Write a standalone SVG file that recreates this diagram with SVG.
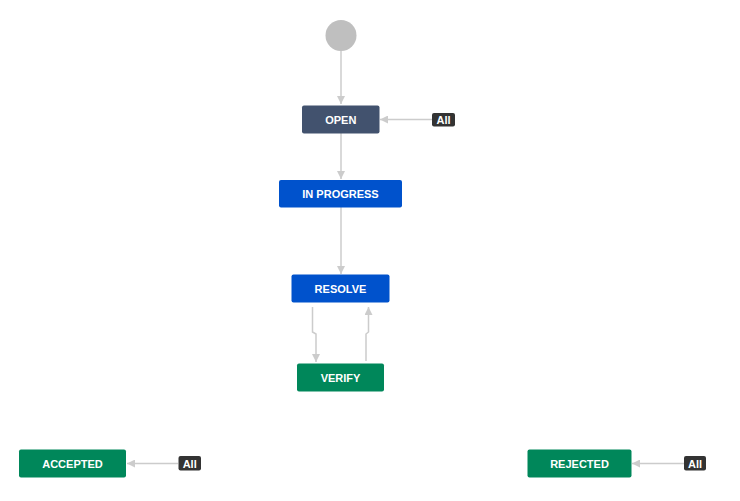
<svg xmlns="http://www.w3.org/2000/svg" width="740" height="501" viewBox="0 0 740 501">
<style>
.st text{font-family:"Liberation Sans",Arial,sans-serif;font-size:11px;font-weight:bold;fill:#fff;text-anchor:middle;dominant-baseline:central}
.lbl rect{fill:#333333}
.lbl text{font-family:"Liberation Sans",Arial,sans-serif;font-size:11px;font-weight:bold;fill:#fff;text-anchor:middle;dominant-baseline:central}
.conn path{fill:none;stroke:#cccccc;stroke-width:1.5}
</style>
<defs>
<marker id="ah" viewBox="0 0 10 10" refX="10" refY="5" markerWidth="8" markerHeight="8" markerUnits="userSpaceOnUse" orient="auto">
<path d="M0,0 L10,5 L0,10 z" fill="#cccccc"/>
</marker>
</defs>
<rect width="740" height="501" fill="#ffffff"/>
<g id="connectors" class="conn">
<path d="M341,51 V104" marker-end="url(#ah)"/>
<path d="M432,119.5 H380" marker-end="url(#ah)"/>
<path d="M341,133 V179" marker-end="url(#ah)"/>
<path d="M341,207 V274" marker-end="url(#ah)"/>
<path d="M312.5,307 V332 L316,334 V362" marker-end="url(#ah)"/>
<path d="M366,361 V334 L368.5,332 V307" marker-end="url(#ah)"/>
<path d="M178,463.5 H127" marker-end="url(#ah)"/>
<path d="M684,463.5 H632" marker-end="url(#ah)"/>
</g>
<g id="start"><circle cx="341" cy="35.5" r="15.5" fill="#bfbfbf"/></g>
<g id="open" class="st"><rect x="302" y="105.5" width="77.5" height="28" rx="2" fill="#42526e"/><text x="340.8" y="119.5">OPEN</text></g>
<g id="all-open" class="lbl"><rect x="432" y="113" width="23" height="13.5" rx="2"/><text x="443.5" y="120">All</text></g>
<g id="inprogress" class="st"><rect x="279" y="180" width="123" height="27.5" rx="2" fill="#0052cc"/><text x="340.5" y="194">IN PROGRESS</text></g>
<g id="resolve" class="st"><rect x="291.5" y="274.5" width="98" height="28" rx="2" fill="#0052cc"/><text x="340.5" y="288.5">RESOLVE</text></g>
<g id="verify" class="st"><rect x="297" y="363.5" width="87" height="28" rx="2" fill="#00875a"/><text x="340.5" y="377.5">VERIFY</text></g>
<g id="accepted" class="st"><rect x="19" y="449.5" width="107" height="28" rx="2" fill="#00875a"/><text x="72.5" y="463.5">ACCEPTED</text></g>
<g id="all-accepted" class="lbl"><rect x="178.5" y="456" width="22.5" height="14.5" rx="2"/><text x="189.7" y="463.5">All</text></g>
<g id="rejected" class="st"><rect x="527.5" y="449.5" width="104" height="28" rx="2" fill="#00875a"/><text x="579.5" y="463.5">REJECTED</text></g>
<g id="all-rejected" class="lbl"><rect x="684" y="456" width="22" height="14.5" rx="2"/><text x="695" y="463.5">All</text></g>
</svg>
